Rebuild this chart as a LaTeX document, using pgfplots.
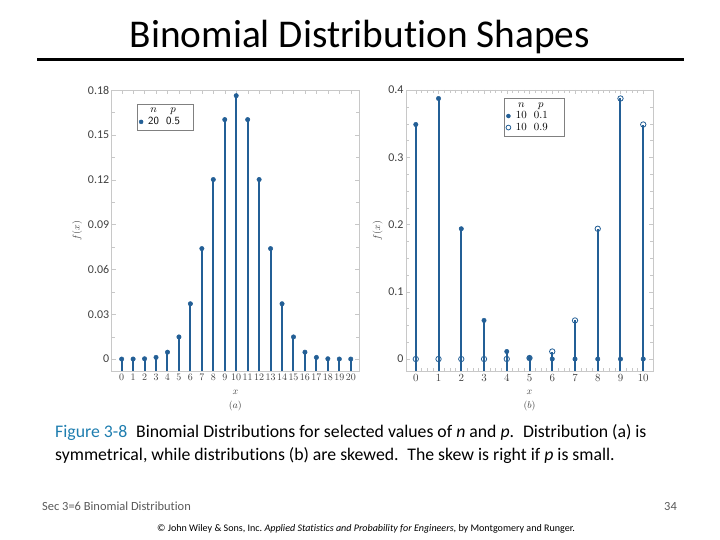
\documentclass[border=0pt]{standalone}
\usepackage{pgfplots}
\pgfplotsset{compat=1.18}
\usepackage{fontspec}
\setmainfont{Carlito}[Ligatures=NoCommon]
\definecolor{stem}{RGB}{35,95,150}
\definecolor{figblue}{RGB}{30,125,175}
\definecolor{frame}{RGB}{200,200,200}
\newcommand\lgcell[3]{\hbox to 13bp{\hss#1\hss}\kern5bp\hbox to 16bp{\hss#2\hss}\kern#3}
\begin{document}
\begin{tikzpicture}[x=1bp,y=-1bp]
\useasboundingbox (0,0) rectangle (720,540);
\node[font=\fontsize{39.5}{44}\selectfont] at (360,37) {Binomial Distribution Shapes};
\draw[line width=3bp] (37,60) -- (684,60);
\pgfplotsset{
  stemplot/.style={
    scale only axis, height=281bp,
    axis line style={frame, line width=0.8bp}, tick style={frame},
    tick align=inside,
    scaled y ticks=false,
    yticklabel style={font=\fontsize{12}{13}\selectfont, text=black!75, xshift=1bp},
    xticklabel style={text=black!75},
    label style={font=\fontsize{10}{12}\selectfont, text=black!75},
    legend style={draw=black!50, fill=white, font=\fontsize{11}{12}\selectfont, row sep=-1pt, inner sep=2pt,
      /tikz/every odd column/.append style={column sep=2bp},
      /tikz/every even column/.append style={column sep=0bp}},
    legend cell align=left,
    legend image code/.code={\draw[#1] plot coordinates {(0bp,0bp)};},
    every axis plot/.append style={draw=stem},
    xlabel style={align=center, yshift=-2pt},
  },
}
% ---------- (a)
\begin{axis}[stemplot, at={(111.7bp,-371bp)}, anchor=south west, width=247.3bp,
  xmin=-0.87, xmax=20.72, ymin=-0.008, ymax=0.18,
  xtick={0,1,...,20}, ytick={0,0.03,0.06,0.09,0.12,0.15,0.18},
  yticklabels={0,0.03,0.06,0.09,0.12,0.15,0.18},
  xticklabel style={font=\fontsize{10}{11}\selectfont},
  minor y tick num=1,
  xlabel={$x$\\[2pt]$(a)$},
  ylabel={$f(x)$}, ylabel style={yshift=-1pt},
  legend style={at={(0.102,0.95)}, anchor=north west, font=\sffamily\fontsize{11}{12}\selectfont},
]
\addlegendimage{empty legend}
\addlegendentry{\lgcell{$n$}{$p$}{8bp}}
\addlegendimage{only marks, mark=*, mark size=2bp, draw=stem, fill=stem}
\addlegendentry{\lgcell{20}{0.5}{8bp}}
\addplot[ycomb, draw=stem, line width=2bp, mark=*, mark size=2.2bp, mark options={fill=stem, line width=0.5bp}, forget plot] coordinates {
(0,0.000001) (1,0.00002) (2,0.0002) (3,0.0011) (4,0.0046) (5,0.0148) (6,0.0370) (7,0.0739) (8,0.1201) (9,0.1602) (10,0.1762)
(11,0.1602) (12,0.1201) (13,0.0739) (14,0.0370) (15,0.0148) (16,0.0046) (17,0.0011) (18,0.0002) (19,0.00002) (20,0.000001)};
\addplot[ycomb, draw=stem, line width=2bp, forget plot] coordinates {
(0,-0.008) (1,-0.008) (2,-0.008) (3,-0.008) (4,-0.008) (5,-0.008) (6,-0.008) (7,-0.008) (8,-0.008) (9,-0.008) (10,-0.008)
(11,-0.008) (12,-0.008) (13,-0.008) (14,-0.008) (15,-0.008) (16,-0.008) (17,-0.008) (18,-0.008) (19,-0.008) (20,-0.008)};
\end{axis}
% ---------- (b)
\begin{axis}[stemplot, at={(406bp,-371bp)}, anchor=south west, width=247bp,
  xmin=-0.43, xmax=10.43, ymin=-0.0178, ymax=0.4,
  xtick={0,1,...,10}, ytick={0,0.1,0.2,0.3,0.4},
  yticklabels={0,0.1,0.2,0.3,0.4},
  xticklabel style={font=\fontsize{11}{12}\selectfont},
  minor y tick num=3, minor x tick num=3,
  xlabel={$x$\\[2pt]$(b)$},
  ylabel={$f(x)$}, ylabel style={yshift=-1pt},
  legend style={at={(0.396,0.97)}, anchor=north west},
]
\addlegendimage{empty legend}
\addlegendentry{\lgcell{$n$}{$p$}{11bp}}
\addlegendimage{only marks, mark=*, mark size=2bp, draw=stem, fill=stem}
\addlegendentry{\lgcell{$10$}{$0.1$}{11bp}}
\addlegendimage{only marks, mark=o, mark size=2.4bp, draw=stem, fill=white, line width=0.8bp}
\addlegendentry{\lgcell{$10$}{$0.9$}{11bp}}
\addplot[ycomb, draw=stem, line width=2bp, mark=*, mark size=2.2bp, mark options={fill=stem, line width=0.5bp}, forget plot] coordinates {
(0,0.3487) (1,0.3874) (2,0.1937) (3,0.0574) (4,0.0112) (5,0.0015) (6,0.0001) (7,0.000001) (8,0.000001) (9,0.000001) (10,0.000001)};
\addplot[ycomb, draw=stem, line width=2bp, mark=o, mark size=2.7bp, mark options={fill=white, line width=0.8bp}, forget plot] coordinates {
(0,0.000001) (1,0.000001) (2,0.000001) (3,0.000001) (4,0.0001) (5,0.0015) (6,0.0112) (7,0.0574) (8,0.1937) (9,0.3874) (10,0.3487)};
\addplot[ycomb, draw=stem, line width=2bp, forget plot] coordinates {
(0,-0.0178) (1,-0.0178) (2,-0.0178) (3,-0.0178) (4,-0.0178) (5,-0.0178) (6,-0.0178) (7,-0.0178) (8,-0.0178) (9,-0.0178) (10,-0.0178)};
\end{axis}
% ---------- caption and footer
\node[anchor=north west, align=left, font=\fontsize{17.8}{23}\selectfont, inner sep=0pt] at (55,424)
 {\textcolor{figblue}{Figure 3-8}\enspace Binomial Distributions for selected values of \textit{n} and \textit{p}.\enspace Distribution (a) is\\
  symmetrical, while distributions (b) are skewed.\enspace The skew is right if \textit{p} is small.};
\node[anchor=west, font=\fontsize{12.5}{14}\selectfont, text=black!65, inner sep=0pt] at (42,506) {Sec 3=6 Binomial Distribution};
\node[anchor=east, font=\fontsize{12.5}{14}\selectfont, text=black!65, inner sep=0pt] at (677,506) {34};
\node[font=\fontsize{10.1}{11}\selectfont, inner sep=0pt] at (366,529) {© John Wiley \& Sons, Inc.\ \textit{Applied Statistics and Probability for Engineers}, by Montgomery and Runger.};
\end{tikzpicture}
\end{document}
